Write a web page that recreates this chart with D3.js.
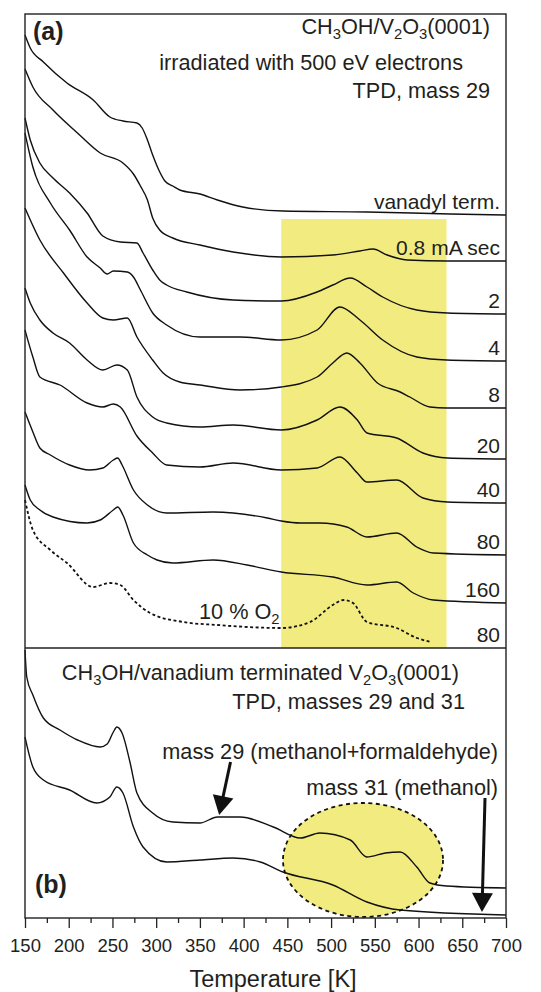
<!DOCTYPE html>
<html><head><meta charset="utf-8">
<script src="https://cdn.jsdelivr.net/npm/d3@7"></script>
<style>
body{margin:0;background:#fff}
svg{display:block}
text{font-family:"Liberation Sans",Arial,Helvetica,sans-serif;fill:#231f20}
</style>
</head><body>
<svg id="chart" width="541" height="992"></svg>
<script>
// ---------- data (temperature K, intensity arb. units, offset) ----------
const majorTicks = [150,200,250,300,350,400,450,500,550,600,650,700];
const minorTicks = [175,225,275,325,375,425,475,525,575,625,675];

const vanadyl = [[150,613],[156,600],[171,586],[198,565],[228,548],[247,531],[262,527],[278,525],[284,520],[290,508],[296,493],[303,478],[310,467],[319,462],[327,458],[350,454],[370,448],[399,441],[445,437],[541,436],[636,434],[700,433]];
const dose08 = [[150,579],[159,561],[182,538],[210,515],[236,495],[262,485],[274,474],[282,462],[290,448],[296,430],[304,418],[319,410],[350,403],[388,396],[443,391],[502,393],[533,397],[548,399],[564,393],[587,388],[633,387],[700,387]];
const dose2 = [[150,530],[156,508],[167,485],[182,470],[201,455],[221,435],[239,412],[259,406],[278,405],[285,395],[296,378],[304,368],[312,363],[335,356],[388,348],[443,347],[484,356],[502,363],[522,370],[541,361],[559,351],[598,338],[633,335],[700,334]];
const dose4 = [[150,515],[159,481],[179,445],[201,418],[221,391],[236,380],[244,374],[251,377],[267,376],[274,371],[282,358],[296,335],[312,323],[350,311],[396,311],[443,308],[484,318],[510,341],[533,328],[559,308],[598,291],[632,288],[700,287]];
const dose8 = [[150,440],[167,408],[194,375],[221,345],[239,330],[251,328],[267,330],[278,311],[296,288],[308,275],[327,266],[350,263],[396,258],[443,261],[484,271],[502,285],[518,295],[533,285],[553,265],[579,256],[590,251],[613,241],[632,240],[700,240]];
const dose20 = [[150,360],[156,345],[167,328],[182,315],[201,305],[221,288],[239,278],[255,283],[267,278],[278,251],[296,231],[312,225],[350,221],[388,223],[443,218],[484,228],[510,241],[530,228],[541,215],[575,210],[605,195],[633,190],[700,189]];
const dose40 = [[150,318],[159,291],[167,271],[190,263],[221,245],[239,241],[251,244],[259,241],[278,212],[296,195],[312,183],[350,181],[388,185],[443,178],[484,180],[510,191],[530,175],[541,166],[575,168],[605,150],[633,146],[700,145]];
const dose80 = [[150,236],[159,216],[167,200],[179,193],[201,183],[224,178],[239,180],[251,188],[256,190],[261,183],[274,158],[290,143],[312,135],[365,136],[427,130],[443,127],[465,125],[487,125],[518,121],[541,111],[575,115],[598,101],[617,95],[700,93]];
const dose160 = [[150,163],[156,148],[167,138],[182,131],[221,125],[236,128],[251,138],[256,141],[262,133],[274,105],[290,93],[301,88],[319,85],[365,88],[404,83],[443,76],[502,71],[541,63],[575,66],[594,55],[617,48],[700,45]];
const dose80O2 = [[150,148],[159,118],[179,98],[198,85],[228,61],[247,65],[259,63],[274,48],[293,35],[331,26],[370,23],[443,20],[476,26],[502,43],[514,48],[525,45],[541,26],[575,20],[598,10],[615,6]];
const seriesA = [vanadyl, dose08, dose2, dose4, dose8, dose20, dose40, dose80, dose160, dose80O2];
const labelsA = ["vanadyl term.","0.8 mA sec","2","4","8","20","40","80","160","80"];

const mass29 = [[150,268],[152,241],[159,223],[171,200],[190,188],[210,178],[236,171],[244,174],[251,186],[255,191],[261,185],[270,156],[278,125],[296,105],[319,96],[350,95],[370,101],[396,101],[434,91],[465,80],[487,85],[522,78],[541,61],[562,65],[579,66],[598,51],[613,35],[632,32],[700,30]];
const mass31 = [[150,181],[159,151],[171,138],[201,128],[232,115],[247,121],[255,131],[262,125],[274,91],[285,71],[312,56],[350,58],[388,60],[419,56],[445,46],[502,33],[541,16],[579,8],[700,3]];

const highlightA = [443, 632, 429];          // T from, T to, intensity top
const ellipseB = [536.5, 58, 91.5, 57];      // centre T, centre I, half-width K, half-height I
const arrow29 = [[385, 156],[372, 103]];
const arrow31 = [[676, 120],[672.5, 6]];

// ---------- layout ----------
const svg = d3.select("#chart");
const L = 25, R = 506, TOP = 14, MID = 648, BOT = 918;
const x = d3.scaleLinear().domain([150,700]).range([L,R]);
const yA = d3.scaleLinear().domain([0,634]).range([MID,TOP]);
const yB = d3.scaleLinear().domain([0,270]).range([BOT,MID]);
const yellow = "#f2ec80";
const FS = 21.7;

svg.append("rect")
  .attr("x", x(highlightA[0])).attr("y", yA(highlightA[2]))
  .attr("width", x(highlightA[1]) - x(highlightA[0]))
  .attr("height", yA(0) - yA(highlightA[2]))
  .attr("fill", yellow);

svg.append("ellipse")
  .attr("cx", x(ellipseB[0])).attr("cy", yB(ellipseB[1]))
  .attr("rx", x(ellipseB[0] + ellipseB[2]) - x(ellipseB[0]))
  .attr("ry", yB(0) - yB(ellipseB[3]))
  .attr("fill", yellow).attr("stroke", "#111").attr("stroke-width", 1.8)
  .attr("stroke-dasharray", "4,3.5");

const lineA = d3.line().x(d => x(d[0])).y(d => yA(d[1])).curve(d3.curveMonotoneX);
const lineB = d3.line().x(d => x(d[0])).y(d => yB(d[1])).curve(d3.curveMonotoneX);

seriesA.forEach((s, i) => {
  svg.append("path").attr("d", lineA(s)).attr("fill", "none")
    .attr("stroke", "#111").attr("stroke-width", i === 9 ? 1.8 : 1.4)
    .attr("stroke-dasharray", i === 9 ? "3,2.5" : null)
    .attr("stroke-linejoin", "round");
});
[mass29, mass31].forEach(s => {
  svg.append("path").attr("d", lineB(s)).attr("fill", "none")
    .attr("stroke", "#111").attr("stroke-width", 1.4).attr("stroke-linejoin", "round");
});

seriesA.forEach((s, i) => {
  const last = s[s.length - 1];
  const yy = i === 9 ? MID - 6 : yA(last[1]) - 6;
  svg.append("text").attr("x", 500).attr("y", yy).attr("text-anchor", "end")
    .attr("font-size", 21).text(labelsA[i]);
});

svg.append("rect").attr("x", L).attr("y", TOP).attr("width", R - L).attr("height", BOT - TOP)
  .attr("fill", "none").attr("stroke", "#222").attr("stroke-width", 1.4);
svg.append("line").attr("x1", L).attr("x2", R).attr("y1", MID).attr("y2", MID)
  .attr("stroke", "#222").attr("stroke-width", 1.6);

const axis = svg.append("g").attr("transform", `translate(0,${BOT})`)
  .call(d3.axisBottom(x).tickValues(majorTicks).tickSize(10).tickPadding(11).tickFormat(d3.format("d")));
axis.select(".domain").remove();
axis.selectAll("line").attr("stroke", "#222").attr("stroke-width", 1.3);
axis.selectAll("text").attr("font-size", 18.5).attr("fill", "#231f20")
  .attr("font-family", '"Liberation Sans",Arial,sans-serif');
const minor = svg.append("g").attr("transform", `translate(0,${BOT})`)
  .call(d3.axisBottom(x).tickValues(minorTicks).tickSize(5).tickFormat(""));
minor.select(".domain").remove();
minor.selectAll("line").attr("stroke", "#222").attr("stroke-width", 1.3);

svg.append("text").attr("x", 273).attr("y", 987).attr("text-anchor", "middle")
  .attr("font-size", 23.5).text("Temperature [K]");

function rich(xp, yp, parts, anchor, size) {
  const t = svg.append("text").attr("x", xp).attr("y", yp).attr("text-anchor", anchor).attr("font-size", size);
  parts.forEach(p => {
    if (p[1]) t.append("tspan").attr("font-size", size * 0.68).attr("dy", 5).text(p[0]);
    else t.append("tspan").attr("dy", p[2] ? -5 : 0).text(p[0]);
  });
  return t;
}

svg.append("text").attr("x", 33).attr("y", 40).attr("font-size", 25).attr("font-weight", "bold").text("(a)");
rich(490, 34, [["CH",0],["3",1],["OH/V",0,1],["2",1],["O",0,1],["3",1],["(0001)",0,1]], "end", FS);
svg.append("text").attr("x", 463).attr("y", 70).attr("text-anchor", "end").attr("font-size", FS).text("irradiated with 500 eV electrons");
svg.append("text").attr("x", 490).attr("y", 98).attr("text-anchor", "end").attr("font-size", FS).text("TPD, mass 29");
rich(199, 619, [["10 % O",0],["2",1]], "start", FS);

svg.append("text").attr("x", 35).attr("y", 893).attr("font-size", 25).attr("font-weight", "bold").text("(b)");
rich(459, 680, [["CH",0],["3",1],["OH/vanadium terminated V",0,1],["2",1],["O",0,1],["3",1],["(0001)",0,1]], "end", FS);
svg.append("text").attr("x", 465).attr("y", 709).attr("text-anchor", "end").attr("font-size", FS).text("TPD, masses 29 and 31");
svg.append("text").attr("x", 498).attr("y", 759).attr("text-anchor", "end").attr("font-size", FS).text("mass 29 (methanol+formaldehyde)");
svg.append("text").attr("x", 498).attr("y", 795).attr("text-anchor", "end").attr("font-size", FS).text("mass 31 (methanol)");

function arrow(a) {
  const x1 = x(a[0][0]), y1 = yB(a[0][1]), x2 = x(a[1][0]), y2 = yB(a[1][1]);
  const dx = x2 - x1, dy = y2 - y1, len = Math.hypot(dx, dy), ux = dx / len, uy = dy / len;
  const hl = 19, hw = 10.5;
  const bx = x2 - ux * hl, by = y2 - uy * hl;
  svg.append("line").attr("x1", x1).attr("y1", y1).attr("x2", bx + ux * 2).attr("y2", by + uy * 2)
    .attr("stroke", "#111").attr("stroke-width", 3);
  svg.append("path").attr("d", `M${x2},${y2}L${bx - uy * hw},${by + ux * hw}L${bx + uy * hw},${by - ux * hw}Z`)
    .attr("fill", "#111");
}
arrow(arrow29);
arrow(arrow31);
</script>
</body></html>
